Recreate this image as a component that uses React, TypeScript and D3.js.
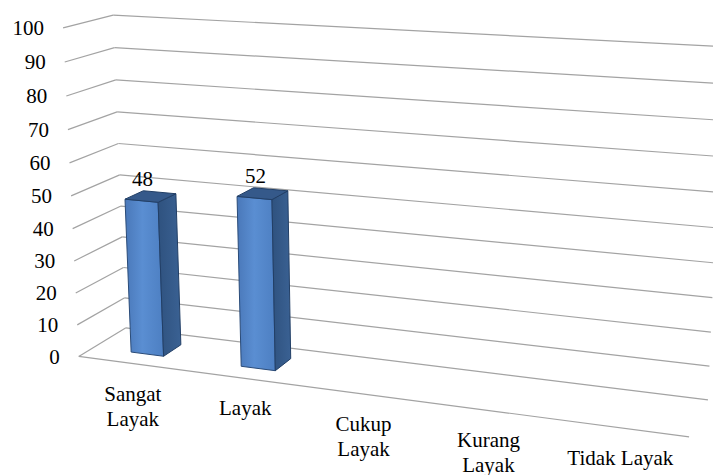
import React, { useMemo } from 'react';
import * as d3 from 'd3';

const categories = ['Sangat Layak', 'Layak', 'Cukup Layak', 'Kurang Layak', 'Tidak Layak'];
const categoryLines = [['Sangat', 'Layak'], ['Layak'], ['Cukup', 'Layak'], ['Kurang', 'Layak'], ['Tidak Layak']];
const values: (number | null)[] = [48, 52, null, null, null];
const yTicks = [0, 10, 20, 30, 40, 50, 60, 70, 80, 90, 100];

// Camera calibration: box corners in world space (u along categories, h up, w depth) -> screen
const calibWorld = [
  [0, 0, 0], [0, 1, 0], [0, 0, 1], [0, 1, 1], [1, 0, 1], [1, 1, 1], [1, 0, 0], [0, 0.5, 1], [0, 0.6, 0], [0.5, 0, 0],
];
const calibScreen = [
  [80, 356], [62, 28], [125, 328], [115, 15], [708, 400], [723, 46.5], [689, 437], [119, 175], [69, 163], [364, 394],
];

const W = 713;
const H = 475;
const BAR_FRAC = 0.3;
const DEPTH0 = 0.31;
const DEPTH1 = 0.7;

function solveCamera(): number[] {
  const rows: number[][] = [];
  const rhs: number[] = [];
  calibWorld.forEach(([X, Y, Z], i) => {
    const x = (calibScreen[i][0] - 360) / 360;
    const y = (calibScreen[i][1] - 240) / 360;
    rows.push([X, Y, Z, 1, 0, 0, 0, 0, -x * X, -x * Y, -x * Z]);
    rhs.push(x);
    rows.push([0, 0, 0, 0, X, Y, Z, 1, -y * X, -y * Y, -y * Z]);
    rhs.push(y);
  });
  const n = 11;
  const M = Array.from({ length: n }, () => new Array(n + 1).fill(0));
  rows.forEach((r, k) => {
    for (let i = 0; i < n; i++) {
      for (let j = 0; j < n; j++) M[i][j] += r[i] * r[j];
      M[i][n] += r[i] * rhs[k];
    }
  });
  for (let c = 0; c < n; c++) {
    let piv = c;
    for (let r = c + 1; r < n; r++) if (Math.abs(M[r][c]) > Math.abs(M[piv][c])) piv = r;
    [M[c], M[piv]] = [M[piv], M[c]];
    for (let r = 0; r < n; r++) {
      if (r === c) continue;
      const f = M[r][c] / M[c][c];
      for (let j = c; j <= n; j++) M[r][j] -= f * M[c][j];
    }
  }
  return M.map((row, i) => row[n] / row[i]);
}

export default function App() {
  const p = useMemo(solveCamera, []);
  const proj = (u: number, h: number, w: number): [number, number] => {
    const den = p[8] * u + p[9] * h + p[10] * w + 1;
    const x = (p[0] * u + p[1] * h + p[2] * w + p[3]) / den;
    const y = (p[4] * u + p[5] * h + p[6] * w + p[7]) / den;
    return [x * 360 + 360, y * 360 + 240];
  };

  const xBand = d3.scaleBand<string>().domain(categories).range([0, 1]).padding(0);
  const yScale = d3.scaleLinear().domain([0, 100]).range([0, 1]);
  const poly = d3.line<[number, number]>().curve(d3.curveLinearClosed);
  const seg = d3.line<[number, number]>();

  const gridColor = '#a3a3a3';
  const fontFamily = 'Liberation Serif';

  return (
    <svg width={W} height={H} style={{ position: 'absolute', left: 0, top: 0, background: '#fff' }}>
      <defs>
        <linearGradient id="frontGrad" x1="0" x2="1" y1="0" y2="0">
          <stop offset="0%" stopColor="#4a78b9" />
          <stop offset="45%" stopColor="#5a8ed2" />
          <stop offset="100%" stopColor="#4d7fc2" />
        </linearGradient>
        <linearGradient id="sideGrad" x1="0" x2="1" y1="0" y2="0">
          <stop offset="0%" stopColor="#2f527f" />
          <stop offset="100%" stopColor="#3a6193" />
        </linearGradient>
      </defs>
      <g fontFamily={fontFamily} fontSize={21}>
        {/* grid lines on left wall and back wall */}
        {yTicks.map((t) => {
          const h = yScale(t);
          return (
            <g key={'g' + t}>
              <path d={seg([proj(0, h, 0), proj(0, h, 1)]) || ''} stroke={gridColor} strokeWidth={1.2} fill="none" />
              <path d={seg([proj(0, h, 1), proj(1, h, 1)]) || ''} stroke={gridColor} strokeWidth={1.2} fill="none" />
            </g>
          );
        })}
        {/* floor front edge */}
        <path d={seg([proj(0, 0, 0), proj(1, 0, 0)]) || ''} stroke={gridColor} strokeWidth={1.2} fill="none" />
        {/* tick labels */}
        {yTicks.map((t) => {
          const [x, y] = proj(0, yScale(t), 0);
          return (
            <text key={'t' + t} x={x - 19} y={y} dy="0.35em" textAnchor="end" fill="#000">
              {t}
            </text>
          );
        })}
        {/* bars */}
        {categories.map((c, i) => {
          const v = values[i];
          if (v == null) return null;
          const step = xBand.step();
          const u0 = (xBand(c) as number) + (step * (1 - BAR_FRAC)) / 2;
          const u1 = u0 + step * BAR_FRAC;
          const h = yScale(v);
          const w0 = DEPTH0;
          const w1 = DEPTH1;
          const front = [proj(u0, 0, w0), proj(u1, 0, w0), proj(u1, h, w0), proj(u0, h, w0)];
          const side = [proj(u1, 0, w0), proj(u1, 0, w1), proj(u1, h, w1), proj(u1, h, w0)];
          const top = [proj(u0, h, w0), proj(u1, h, w0), proj(u1, h, w1), proj(u0, h, w1)];
          const [lx, ly] = proj((u0 + u1) / 2, h, w0);
          return (
            <g key={'b' + c}>
              <path d={poly(front as [number, number][]) || ''} fill="url(#frontGrad)" stroke="#2a4b78" strokeWidth={1} />
              <path d={poly(side as [number, number][]) || ''} fill="url(#sideGrad)" stroke="#223f66" strokeWidth={1} />
              <path d={poly(top as [number, number][]) || ''} fill="#35598a" stroke="#223f66" strokeWidth={1} />
              <text x={lx + 1} y={ly - 15} textAnchor="middle" fill="#000">
                {v}
              </text>
            </g>
          );
        })}
        {/* category labels */}
        {categories.map((c, i) => {
          const uc = (xBand(c) as number) + xBand.bandwidth() / 2;
          const [x, y] = proj(uc, 0, 0);
          return (
            <text key={'c' + c} x={x} y={y + 37} textAnchor="middle" fill="#000">
              {categoryLines[i].map((ln, k) => (
                <tspan key={k} x={x} dy={k === 0 ? 0 : 25}>
                  {ln}
                </tspan>
              ))}
            </text>
          );
        })}
      </g>
    </svg>
  );
}
